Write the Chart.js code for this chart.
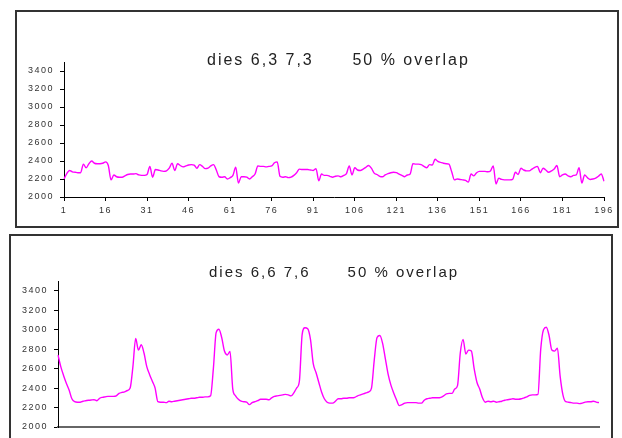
<!DOCTYPE html>
<html>
<head>
<meta charset="utf-8">
<script src="https://cdn.jsdelivr.net/npm/chart.js@4.4.1/dist/chart.umd.min.js"></script>
<style>
html,body{margin:0;padding:0;background:#fff;overflow:hidden;width:622px;height:438px}
.box{position:absolute;box-sizing:border-box;width:604px;height:218px;border:2px solid #333;background:#fff}
#box1{left:15px;top:10px}
#box2{left:9px;top:234px}
canvas{display:block}
</style>
</head>
<body>
<div class="box" id="box1"><canvas id="ch1" width="600" height="214"></canvas></div>
<div class="box" id="box2"><canvas id="ch2" width="600" height="214"></canvas></div>
<script>
// sample index 1..196 (category axis)
const samples = Array.from({length:196},(_,i)=>i+1);
const xTicks = [1,16,31,46,61,76,91,106,121,136,151,166,181,196];
const yTicks = [2000,2200,2400,2600,2800,3000,3200,3400];

const title1 = 'dies 6,3 7,3      50 % overlap';
const title2 = 'dies 6,6 7,6      50 % overlap';

// dies 6,3 7,3
const dies63 = [
  2200,2260,2295,2280,2275,2270,2270,2365,2325,2370,
  2400,2375,2370,2370,2375,2390,2350,2190,2245,2225,
  2220,2220,2235,2250,2255,2255,2260,2245,2240,2240,
  2250,2340,2220,2305,2300,2290,2285,2290,2320,2375,
  2295,2370,2350,2335,2345,2355,2360,2355,2320,2360,
  2340,2315,2320,2345,2360,2300,2225,2220,2225,2200,
  2215,2240,2330,2155,2225,2225,2220,2200,2225,2255,
  2345,2340,2340,2335,2340,2345,2380,2390,2230,2220,
  2225,2215,2220,2240,2270,2310,2305,2305,2305,2300,
  2295,2315,2180,2255,2240,2240,2230,2220,2230,2235,
  2225,2240,2260,2345,2245,2325,2300,2295,2310,2330,
  2350,2320,2265,2250,2230,2225,2245,2260,2270,2275,
  2270,2255,2240,2225,2245,2255,2370,2365,2365,2360,
  2340,2325,2360,2355,2420,2395,2385,2375,2370,2365,
  2280,2190,2200,2195,2190,2185,2165,2255,2235,2270,
  2285,2285,2285,2280,2290,2345,2145,2210,2195,2190,
  2190,2190,2195,2275,2250,2320,2300,2290,2290,2310,
  2330,2340,2270,2320,2300,2275,2290,2310,2350,2225,
  2245,2255,2235,2225,2240,2245,2325,2155,2245,2215,
  2195,2200,2210,2230,2255,2175
];

// dies 6,6 7,6
const dies66 = [
  2740,2620,2530,2450,2380,2290,2260,2255,2255,2265,
  2270,2275,2278,2280,2270,2295,2305,2310,2315,2315,
  2315,2320,2345,2355,2360,2375,2400,2620,2910,2790,
  2845,2760,2620,2540,2470,2400,2260,2255,2255,2250,
  2265,2260,2265,2270,2275,2280,2285,2290,2295,2295,
  2300,2305,2305,2310,2310,2320,2600,2970,3005,2920,
  2780,2740,2775,2390,2320,2285,2265,2260,2255,2230,
  2250,2260,2270,2285,2285,2285,2280,2300,2315,2320,
  2325,2330,2335,2330,2320,2350,2400,2470,2950,3020,
  3010,2900,2650,2560,2460,2360,2290,2255,2245,2245,
  2265,2290,2290,2295,2295,2300,2300,2305,2320,2330,
  2340,2350,2360,2400,2690,2920,2940,2860,2700,2540,
  2430,2350,2280,2220,2230,2245,2250,2250,2250,2250,
  2245,2245,2275,2290,2295,2300,2300,2300,2305,2320,
  2340,2345,2345,2390,2425,2760,2900,2750,2790,2780,
  2600,2460,2390,2300,2255,2265,2260,2265,2255,2260,
  2265,2275,2280,2285,2290,2285,2285,2290,2300,2310,
  2325,2330,2330,2335,2800,3000,3025,2940,2790,2780,
  2810,2520,2330,2260,2255,2250,2245,2245,2240,2245,
  2255,2260,2260,2265,2255,2250
];

const FONT = '"Liberation Sans", Arial, sans-serif';

const spacedTitle = {
  id:'spacedTitle',
  beforeDraw(chart){ chart.ctx.letterSpacing = '1.5px'; },
  afterDraw(chart,args,o){
    const ctx = chart.ctx;
    ctx.save();
    ctx.font = o.size+'px '+FONT;
    ctx.letterSpacing = o.spacing+'px';
    ctx.fillStyle = '#222';
    ctx.textAlign = 'left';
    ctx.textBaseline = 'alphabetic';
    ctx.fillText(o.text,o.x,o.y);
    ctx.restore();
  }
};

function mkChart(id, values, c){
  return new Chart(document.getElementById(id),{
    type:'line',
    data:{
      labels:samples,
      datasets:[{data:values,borderColor:'#ff00ff',borderWidth:1.4,pointRadius:0,
        fill:false,cubicInterpolationMode:'monotone'}]
    },
    options:{
      responsive:false,animation:false,devicePixelRatio:1,
      layout:{padding:{top:c.padTop,right:c.padRight,left:0,bottom:0}},
      plugins:{legend:{display:false},tooltip:{enabled:false},
        spacedTitle:{text:c.title,size:c.titleSize,spacing:2,x:c.titleX,y:c.titleY}},
      scales:{
        x:{type:'category',offset:false,
          afterBuildTicks:s=>{ s.ticks = s.ticks.filter(t=>xTicks.includes(samples[t.value])); },
          afterFit:s=>{ s.height = c.xHeight; },
          border:{display:true,color:c.xAxisColor,width:c.xAxisWidth},
          grid:{drawOnChartArea:false,drawTicks:c.xLabels,tickLength:4,color:'#000'},
          ticks:{display:c.xLabels,autoSkip:false,maxRotation:0,padding:4,color:'#333',
            font:{family:FONT,size:9},callback:v=>samples[v]}},
        y:{type:'linear',min:2000,max:3500,
          afterBuildTicks:s=>{ s.ticks = yTicks.map(v=>({value:v})); },
          afterFit:s=>{ s.width = 47; },
          border:{display:true,color:'#000',width:1},
          grid:{drawOnChartArea:false,drawTicks:true,tickLength:4,color:'#000'},
          ticks:{padding:6,color:'#333',font:{family:FONT,size:9},callback:v=>String(v)}}
      }
    },
    plugins:[spacedTitle]
  });
}

mkChart('ch1',dies63,{title:title1,titleSize:16,titleX:190,titleY:53,
  padTop:50,padRight:13,xHeight:29,xAxisColor:'#000',xAxisWidth:1,xLabels:true});
// bottom chart: its axis labels lie below the visible edge of the picture
mkChart('ch2',dies66,{title:title2,titleSize:15,titleX:198,titleY:41,
  padTop:45,padRight:12,xHeight:23,xAxisColor:'#666',xAxisWidth:2,xLabels:false});
</script>
</body>
</html>
